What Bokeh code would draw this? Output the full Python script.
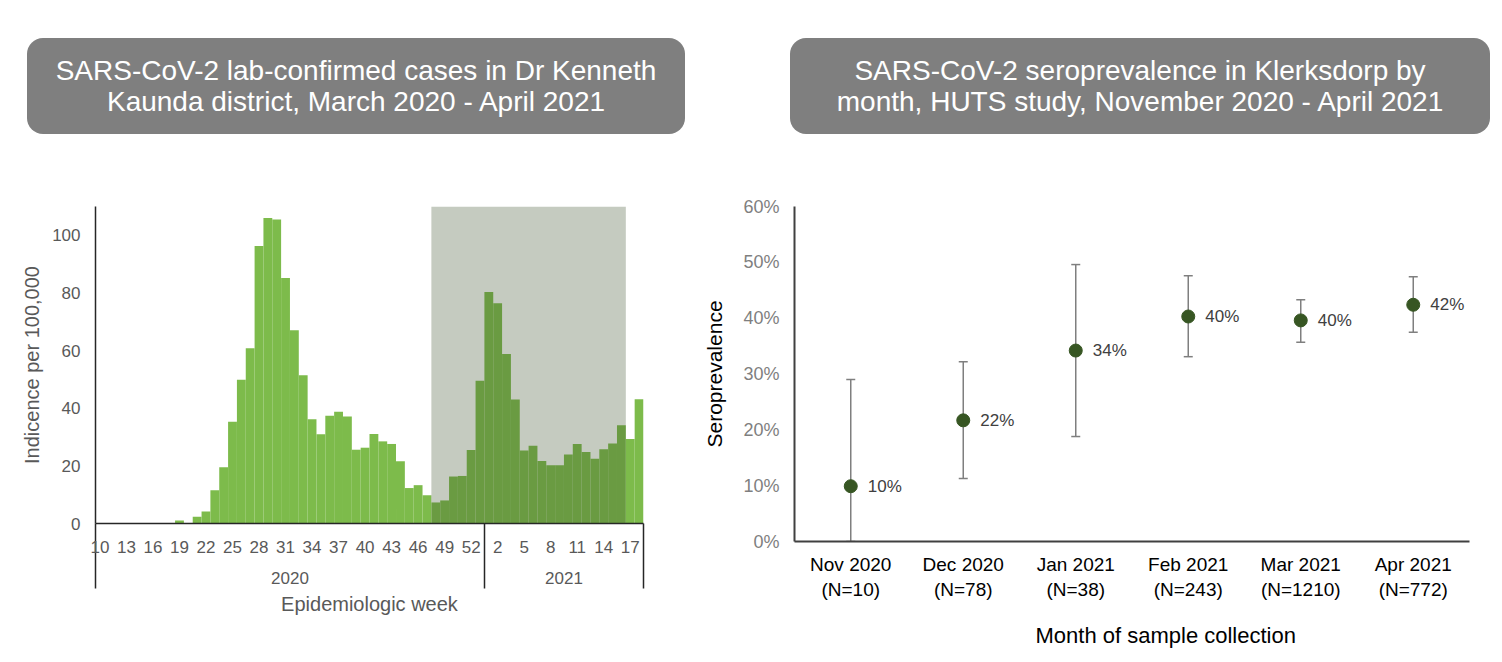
from bokeh.plotting import figure
from bokeh.models import (Range1d, FactorRange, FixedTicker, LinearAxis, BoxAnnotation,
                          Whisker, TeeHead, ColumnDataSource, Div, PrintfTickFormatter, Title)
from bokeh.layouts import row, column
from bokeh.core.properties import value
from bokeh.embed import file_html
from bokeh.resources import INLINE

FONT = "Liberation Sans"

# ---------------- Data: left panel (weekly incidence per 100,000) ----------------
weeks_2020 = list(range(10, 54))
incidence_2020 = [0, 0, 0, 0, 0, 0, 0, 0, 0,
                  1.0, 0, 2.3, 4.2, 11.5, 19.5, 35.3, 49.9, 60.8, 96.3,
                  106.0, 105.5, 85.2, 67.1, 51.4, 36.2, 31.0, 37.4, 38.8, 37.1,
                  25.6, 26.3, 31.1, 28.5, 27.6, 21.6, 12.3, 13.3, 9.8, 7.3,
                  8.0, 16.3, 16.5, 25.5, 49.5]
weeks_2021 = list(range(1, 19))
incidence_2021 = [80.3, 76.4, 58.8, 43.0, 25.3, 27.0, 21.7, 20.2, 20.2, 23.9,
                  27.6, 24.8, 22.5, 25.8, 27.8, 34.1, 29.3, 43.1]
years = ["2020", "2021"]
shade_from = ("2020", 48)   # HUTS study period shading (year, week)
shade_to = ("2021", 16)
label_every = 3

# ---------------- Data: right panel (seroprevalence) ----------------
months = ["Nov 2020", "Dec 2020", "Jan 2021", "Feb 2021", "Mar 2021", "Apr 2021"]
n_samples = [10, 78, 38, 243, 1210, 772]
seroprev = [9.9, 21.7, 34.2, 40.3, 39.6, 42.4]
ci_lower = [0.0, 11.3, 18.8, 33.1, 35.7, 37.5]
ci_upper = [29.0, 32.2, 49.6, 47.6, 43.3, 47.4]

# ---------------- Left figure ----------------
all_weeks = [("2020", w) for w in weeks_2020] + [("2021", w) for w in weeks_2021]
all_inc = incidence_2020 + incidence_2021
idx = list(range(len(all_weeks)))

p1 = figure(frame_width=548, frame_height=317,
            x_range=Range1d(-0.5, len(idx) - 0.5), y_range=Range1d(0, 110),
            output_backend="svg", toolbar_location=None,
            min_border_left=95, min_border_right=57, min_border_top=72, min_border_bottom=100)
p1.grid.visible = False
p1.outline_line_color = None
p1.background_fill_color = "white"

p1.vbar(x=idx, top=all_inc, width=1.0, fill_color="#7DBB4B", line_color=None)

i_from = all_weeks.index(shade_from)
i_to = all_weeks.index(shade_to)
p1.add_layout(BoxAnnotation(left=i_from - 0.5, right=i_to + 0.5, bottom=0, top=110,
                            fill_color="#3E522D", fill_alpha=0.30, line_color=None))

tick_idx = idx[::label_every]
year_edges = [-0.5] + [i - 0.5 for i in range(1, len(all_weeks))
                       if all_weeks[i][0] != all_weeks[i - 1][0]] + [len(idx) - 0.5]
SEP = 65  # length of the year separator lines below the axis
xa = p1.xaxis[0]
xa.ticker = FixedTicker(ticks=tick_idx, minor_ticks=year_edges)
xa.major_label_overrides = {i: str(all_weeks[i][1]) for i in tick_idx}
xa.major_tick_out = 0
xa.major_tick_in = 0
xa.minor_tick_in = 0
xa.minor_tick_out = SEP
xa.minor_tick_line_color = "#262626"
xa.minor_tick_line_width = 1.5
xa.axis_line_color = "#262626"
xa.axis_line_width = 1.5
xa.major_label_standoff = 17 - SEP
xa.major_label_text_font = FONT
xa.major_label_text_font_size = "17px"
xa.major_label_text_color = "#595959"

year_centers = [(year_edges[k] + year_edges[k + 1]) / 2 for k in range(len(years))]
ya2 = LinearAxis(ticker=FixedTicker(ticks=year_centers),
                 major_label_overrides={c: y for c, y in zip(year_centers, years)},
                 axis_line_color=None, major_tick_out=0, major_tick_in=0,
                 minor_tick_out=0, minor_tick_in=0,
                 major_label_standoff=16,
                 major_label_text_font=FONT, major_label_text_font_size="17px",
                 major_label_text_color="#595959",
                 axis_label="Epidemiologic week", axis_label_standoff=6,
                 axis_label_text_font=FONT, axis_label_text_font_size="20px",
                 axis_label_text_font_style="normal", axis_label_text_color="#595959")
p1.add_layout(ya2, "below")

ya = p1.yaxis[0]
ya.ticker = FixedTicker(ticks=[0, 20, 40, 60, 80, 100])
ya.major_tick_out = 0
ya.major_tick_in = 0
ya.minor_tick_out = 0
ya.minor_tick_in = 0
ya.axis_line_color = "#262626"
ya.axis_line_width = 1.5
ya.major_label_standoff = 15
ya.major_label_text_font = FONT
ya.major_label_text_font_size = "17px"
ya.major_label_text_color = "#595959"
ya.axis_label = "Indicence per 100,000"
ya.axis_label_standoff = 6
ya.axis_label_text_font = FONT
ya.axis_label_text_font_size = "20px"
ya.axis_label_text_font_style = "normal"
ya.axis_label_text_color = "#595959"

# ---------------- Right figure ----------------
cats = [f"{m}\n(N={n})" for m, n in zip(months, n_samples)]
src = ColumnDataSource(dict(x=cats, y=seroprev, lower=ci_lower, upper=ci_upper,
                            label=[f"{v:.0f}%" for v in seroprev]))

FW2, FH2 = 675, 335
p2 = figure(frame_width=FW2, frame_height=FH2,
            x_range=FactorRange(factors=cats, range_padding=0), y_range=Range1d(0, 60),
            output_backend="svg", toolbar_location=None,
            min_border_left=92, min_border_right=10, min_border_top=72, min_border_bottom=120)
p2.grid.visible = False
p2.outline_line_color = None

err_col = "#7F7F7F"
p2.add_layout(Whisker(base="x", upper="upper", lower="lower", source=src,
                      line_color=err_col, line_width=1.5,
                      upper_head=TeeHead(size=9, line_color=err_col, line_width=1.5),
                      lower_head=TeeHead(size=9, line_color=err_col, line_width=1.5)))
p2.scatter("x", "y", source=src, size=13, fill_color="#375623", line_color="#375623")
p2.text("x", "y", text="label", source=src, x_offset=17, text_align="left",
        text_baseline="middle", text_font=value(FONT), text_font_size="17px",
        text_color="#404040")

xb = p2.xaxis[0]
xb.major_tick_out = 0
xb.major_tick_in = 0
xb.axis_line_color = "#404040"
xb.axis_line_width = 2
xb.major_label_standoff = 12
xb.major_label_text_font = FONT
xb.major_label_text_font_size = "19px"
xb.major_label_text_color = "#000000"

# x-axis title of the right panel, set slightly right of the frame centre as in the source
p2.add_layout(Title(text="Month of sample collection", align="left", offset=241,
                    standoff=36, text_font=FONT, text_font_size="22px",
                    text_font_style="normal", text_color="#000000"), "below")

yb = p2.yaxis[0]
yb.ticker = FixedTicker(ticks=[0, 10, 20, 30, 40, 50, 60])
yb.formatter = PrintfTickFormatter(format="%d%%")
yb.major_tick_out = 0
yb.major_tick_in = 0
yb.minor_tick_out = 0
yb.minor_tick_in = 0
yb.axis_line_color = "#404040"
yb.axis_line_width = 2
yb.major_label_standoff = 15
yb.major_label_text_font = FONT
yb.major_label_text_font_size = "18px"
yb.major_label_text_color = "#7F7F7F"
yb.axis_label = "Seroprevalence"
yb.axis_label_standoff = 14
yb.axis_label_text_font = FONT
yb.axis_label_text_font_size = "21px"
yb.axis_label_text_font_style = "normal"
yb.axis_label_text_color = "#000000"

# ---------------- Title boxes ----------------
def title_html(text, w, h):
    return (f'<div style="width:{w}px;height:{h}px;background:#7F7F7F;border-radius:16px;'
            f'color:#FFFFFF;font-family:\'Liberation Sans\',Arial,sans-serif;font-size:28px;'
            f'line-height:31px;display:flex;align-items:center;justify-content:center;'
            f'text-align:center;">{text}</div>')

t1 = "SARS-CoV-2 lab-confirmed cases in Dr Kenneth<br>Kaunda district, March 2020 - April 2021"
t2 = "SARS-CoV-2 seroprevalence in Klerksdorp by<br>month, HUTS study, November 2020 - April 2021"
d1 = Div(text=title_html(t1, 658, 96), width=658, height=96, margin=(38, 0, 0, 27))
d2 = Div(text=title_html(t2, 700, 96), width=700, height=96, margin=(38, 0, 0, 90))

layout = row(column(d1, p1, spacing=0), column(d2, p2, spacing=0), spacing=0)

open("out.html", "w").write(file_html(layout, INLINE))
